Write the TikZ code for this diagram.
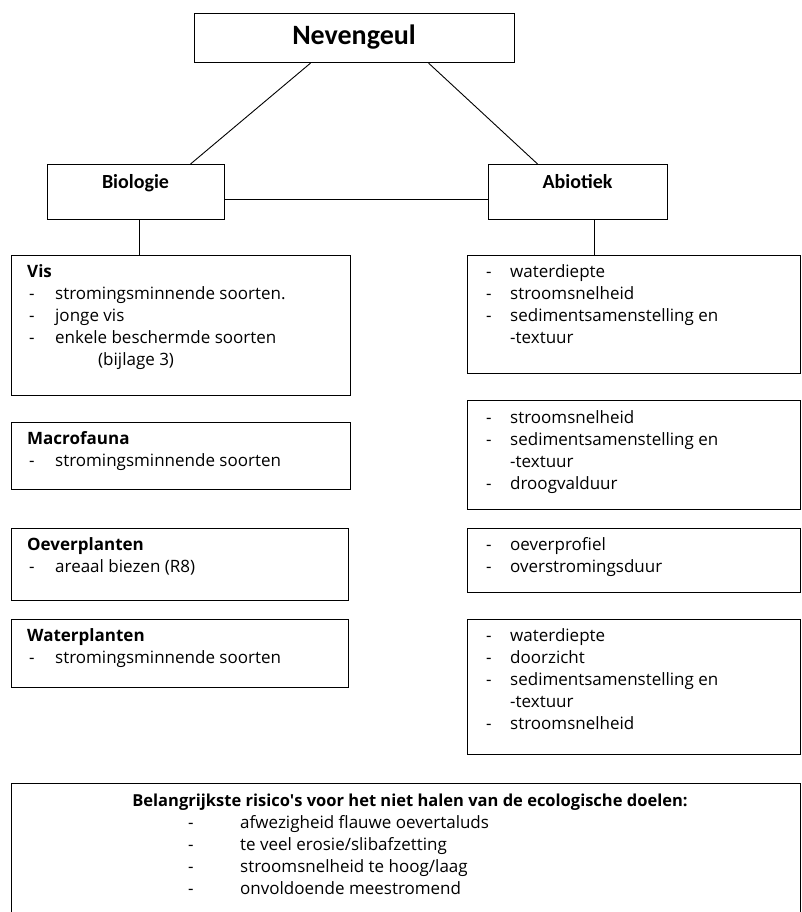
\documentclass[tikz,border=0pt]{standalone}
\usepackage{fontspec}
\setmainfont{Open Sans}
\newfontfamily\calfont{Carlito}
\usepackage{array}
\tikzset{
  box/.style={draw, line width=1.1pt, inner sep=0pt, anchor=north west},
  txt/.style={inner sep=0pt, anchor=base west, align=left},
  conn/.style={line width=0.9pt},
}
\newcommand{\lst}{\fontsize{17}{22}\selectfont}
\newcommand{\dsh}{\hspace{2pt}-}
\begin{document}
\begin{tikzpicture}[x=1pt,y=-1pt]
\useasboundingbox (0,0) rectangle (801,912);
% top boxes
\node[box, minimum width=320pt, minimum height=49pt] (nev) at (194,13) {};
\node[inner sep=0pt, anchor=base] (nevt) at (354,45) {\calfont\bfseries\fontsize{28}{30}\selectfont Nevengeul};
\node[box, minimum width=177pt, minimum height=55pt] (bio) at (47,164) {};
\node[inner sep=0pt, anchor=base] (biot) at (135.5,189) {\calfont\bfseries\fontsize{20}{24}\selectfont Biologie};
\node[box, minimum width=179pt, minimum height=55pt] (abi) at (488,164) {};
\node[inner sep=0pt, anchor=base] (abit) at (577.5,189) {\calfont\bfseries\fontsize{20}{24}\selectfont Abiotiek};
% left boxes
\node[box, minimum width=339pt, minimum height=140pt] (vis) at (11,255) {};
\node[box, minimum width=339pt, minimum height=67pt] (mac) at (11,422) {};
\node[box, minimum width=337pt, minimum height=72pt] (oev) at (11,528) {};
\node[box, minimum width=337pt, minimum height=68pt] (wat) at (11,619) {};
% right boxes
\node[box, minimum width=333pt, minimum height=118pt] (r1) at (467,255) {};
\node[box, minimum width=333pt, minimum height=109pt] (r2) at (467,400) {};
\node[box, minimum width=333pt, minimum height=64pt] (r3) at (467,528) {};
\node[box, minimum width=333pt, minimum height=135pt] (r4) at (467,619) {};
% bottom box
\node[box, minimum width=789pt, minimum height=132pt] (bot) at (11,783) {};
% connectors
\draw[conn] ([xshift=-44pt]nev.south) -- ([xshift=54.5pt]bio.north);
\draw[conn] ([xshift=74pt]nev.south) -- ([xshift=-40.5pt]abi.north);
\draw[conn] ([yshift=-7.5pt]bio.east) -- ([yshift=-7.5pt]abi.west);
\draw[conn] ([xshift=3.5pt]bio.south) -- ([xshift=3.5pt]bio.south |- vis.north);
\draw[conn] ([xshift=16.5pt]abi.south) -- ([xshift=16.5pt]abi.south |- r1.north);
% left texts
\node[txt] (vist) at (27,277) {\lst\begin{tabular}[t]{@{}p{28pt}@{}l@{}}
\multicolumn{2}{@{}l@{}}{\bfseries Vis}\\
\dsh & stromingsminnende soorten.\\
\dsh & jonge vis\\
\dsh & enkele beschermde soorten\\
 & \hspace{43pt}(bijlage 3)
\end{tabular}};
\node[txt] (mact) at (27,444) {\lst\begin{tabular}[t]{@{}p{28pt}@{}l@{}}
\multicolumn{2}{@{}l@{}}{\bfseries Macrofauna}\\
\dsh & stromingsminnende soorten
\end{tabular}};
\node[txt] (oevt) at (27,550) {\lst\begin{tabular}[t]{@{}p{28pt}@{}l@{}}
\multicolumn{2}{@{}l@{}}{\bfseries Oeverplanten}\\
\dsh & areaal biezen (R8)
\end{tabular}};
\node[txt] (watt) at (27,641) {\lst\begin{tabular}[t]{@{}p{28pt}@{}l@{}}
\multicolumn{2}{@{}l@{}}{\bfseries Waterplanten}\\
\dsh & stromingsminnende soorten
\end{tabular}};
% right texts
\node[txt] (r1t) at (484,277) {\lst\begin{tabular}[t]{@{}p{26pt}@{}l@{}}
\dsh & waterdiepte\\
\dsh & stroomsnelheid\\
\dsh & sedimentsamenstelling en\\
 & -textuur
\end{tabular}};
\node[txt] (r2t) at (484,423) {\lst\begin{tabular}[t]{@{}p{26pt}@{}l@{}}
\dsh & stroomsnelheid\\
\dsh & sedimentsamenstelling en\\
 & -textuur\\
\dsh & droogvalduur
\end{tabular}};
\node[txt] (r3t) at (484,550) {\lst\begin{tabular}[t]{@{}p{26pt}@{}l@{}}
\dsh & oeverprofiel\\
\dsh & overstromingsduur
\end{tabular}};
\node[txt] (r4t) at (484,641) {\lst\begin{tabular}[t]{@{}p{26pt}@{}l@{}}
\dsh & waterdiepte\\
\dsh & doorzicht\\
\dsh & sedimentsamenstelling en\\
 & -textuur\\
\dsh & stroomsnelheid
\end{tabular}};
% bottom texts
\node[inner sep=0pt, anchor=base] (bott) at (410,806) {\fontsize{16.5}{22}\selectfont\bfseries Belangrijkste risico\textquotesingle s voor het niet halen van de ecologische doelen:};
\node[txt] (botl) at (186,828) {\lst\begin{tabular}[t]{@{}p{54pt}@{}l@{}}
\dsh & afwezigheid flauwe oevertaluds\\
\dsh & te veel erosie/slibafzetting\\
\dsh & stroomsnelheid te hoog/laag\\
\dsh & onvoldoende meestromend
\end{tabular}};
\end{tikzpicture}
\end{document}
